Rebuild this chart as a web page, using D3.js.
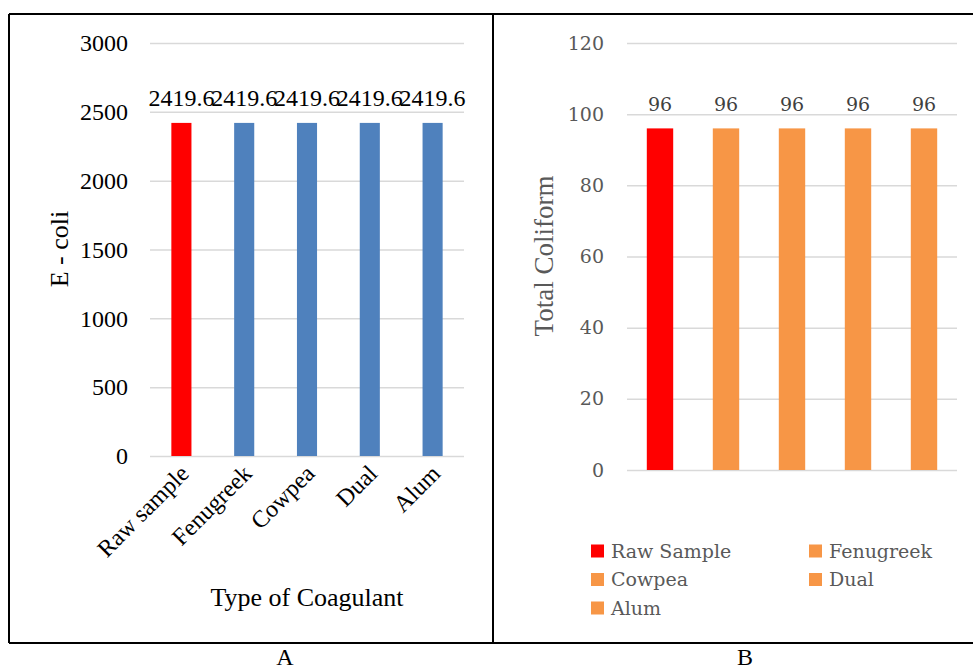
<!DOCTYPE html>
<html lang="en">
<head>
  <meta charset="utf-8" />
  <title>E. coli and Total Coliform by Coagulant</title>
  <script src="https://cdnjs.cloudflare.com/ajax/libs/d3/7.8.5/d3.min.js"></script>
  <style>
    body { margin: 0; background: #fff; }
    svg { display: block; }
    .times { font-family: 'Liberation Serif', 'Times New Roman', serif; }
    .cambria { font-family: 'DejaVu Serif', serif; }
  </style>
</head>
<body>
<svg id="chart" width="973" height="670"></svg>
<script>
// ---- data ----
const coagulantsA = ["Raw sample", "Fenugreek", "Cowpea", "Dual", "Alum"];
const ecoli = [2419.6, 2419.6, 2419.6, 2419.6, 2419.6];
const ecoliTicks = [0, 500, 1000, 1500, 2000, 2500, 3000];

const coagulantsB = ["Raw Sample", "Fenugreek", "Cowpea", "Dual", "Alum"];
const coliform = [96, 96, 96, 96, 96];
const coliformTicks = [0, 20, 40, 60, 80, 100, 120];

const svg = d3.select("#chart");

// ------------------- FRAME -------------------
const frame = svg.append("g").attr("stroke", "#000").attr("stroke-width", 2);
frame.append("line").attr("x1", 9).attr("x2", 973).attr("y1", 14).attr("y2", 14);
frame.append("line").attr("x1", 9).attr("x2", 973).attr("y1", 643).attr("y2", 643);
frame.append("line").attr("x1", 9).attr("x2", 9).attr("y1", 14).attr("y2", 643);
frame.append("line").attr("x1", 493).attr("x2", 493).attr("y1", 14).attr("y2", 643);

svg.append("text").attr("class", "times").attr("x", 285).attr("y", 665)
  .attr("text-anchor", "middle").style("font-size", "24px").text("A");
svg.append("text").attr("class", "times").attr("x", 745).attr("y", 665)
  .attr("text-anchor", "middle").style("font-size", "24px").text("B");

// ------------------- CHART A -------------------
{
  const x = d3.scaleBand().domain(coagulantsA).range([150, 464]).paddingInner(0.68).paddingOuter(0.34);
  const y = d3.scaleLinear().domain([0, 3000]).range([456, 43]);
  const g = svg.append("g").attr("class", "times");

  g.append("g")
    .call(d3.axisLeft(y).tickValues(ecoliTicks).tickFormat(d3.format("d")).tickSize(-314).tickPadding(22))
    .attr("transform", "translate(150,0)")
    .call(a => a.select(".domain").remove())
    .call(a => a.selectAll(".tick line").attr("stroke", "#d9d9d9").attr("stroke-width", 1.5))
    .call(a => a.selectAll(".tick text").attr("fill", "#000")
      .style("font-family", "'Liberation Serif', serif").style("font-size", "24px"));

  g.selectAll("rect.bar")
    .data(coagulantsA)
    .enter()
    .append("rect")
    .attr("x", d => x(d))
    .attr("y", (d, i) => y(ecoli[i]))
    .attr("width", x.bandwidth())
    .attr("height", (d, i) => y(0) - y(ecoli[i]))
    .attr("fill", (d, i) => i === 0 ? "#ff0000" : "#4f81bd");

  g.selectAll("text.val")
    .data(coagulantsA)
    .enter()
    .append("text")
    .attr("x", d => x(d) + x.bandwidth() / 2)
    .attr("y", (d, i) => y(ecoli[i]) - 17)
    .attr("text-anchor", "middle")
    .style("font-size", "24px")
    .text((d, i) => ecoli[i]);

  g.selectAll("text.cat")
    .data(coagulantsA)
    .enter()
    .append("text")
    .attr("transform", d => `translate(${x(d) + x.bandwidth() / 2 + 9},${475}) rotate(-45)`)
    .attr("text-anchor", "end")
    .style("font-size", "24px")
    .text(d => d);

  g.append("text")
    .attr("x", 307).attr("y", 606)
    .attr("text-anchor", "middle")
    .style("font-size", "26px")
    .text("Type of Coagulant");

  g.append("text")
    .attr("transform", "translate(68,249) rotate(-90)")
    .attr("text-anchor", "middle")
    .style("font-size", "26px")
    .text("E - coli");
}

// ------------------- CHART B -------------------
{
  const x = d3.scaleBand().domain(coagulantsB).range([627, 957]).paddingInner(0.6).paddingOuter(0.3);
  const y = d3.scaleLinear().domain([0, 120]).range([470, 43]);
  const g = svg.append("g");
  const colorB = (d, i) => i === 0 ? "#ff0000" : "#f79646";

  g.append("g")
    .attr("transform", "translate(627,0)")
    .call(d3.axisLeft(y).tickValues(coliformTicks).tickSize(-330).tickPadding(23))
    .call(a => a.select(".domain").remove())
    .call(a => a.selectAll(".tick line").attr("stroke", "#d9d9d9").attr("stroke-width", 1.5))
    .call(a => a.selectAll(".tick text").attr("fill", "#595959")
      .style("font-family", "'DejaVu Serif', serif").style("font-size", "19px"));

  g.selectAll("rect.bar")
    .data(coagulantsB)
    .enter()
    .append("rect")
    .attr("x", d => x(d))
    .attr("y", (d, i) => y(coliform[i]))
    .attr("width", x.bandwidth())
    .attr("height", (d, i) => y(0) - y(coliform[i]))
    .attr("fill", colorB);

  g.selectAll("text.val")
    .data(coagulantsB)
    .enter()
    .append("text")
    .attr("class", "cambria")
    .attr("x", d => x(d) + x.bandwidth() / 2)
    .attr("y", (d, i) => y(coliform[i]) - 17)
    .attr("text-anchor", "middle")
    .attr("fill", "#404040")
    .style("font-size", "19px")
    .text((d, i) => coliform[i]);

  g.append("text")
    .attr("class", "times")
    .attr("transform", "translate(553,256) rotate(-90)")
    .attr("text-anchor", "middle")
    .attr("fill", "#595959")
    .style("font-size", "27px")
    .text("Total Coliform");

  // legend
  const legend = g.append("g").attr("class", "cambria");
  coagulantsB.forEach((name, i) => {
    const row = legend.append("g")
      .attr("transform", `translate(${i % 2 === 0 ? 591 : 809},${551 + Math.floor(i / 2) * 28.5})`);
    row.append("rect").attr("x", 0).attr("y", -6.5).attr("width", 13).attr("height", 13).attr("fill", colorB(name, i));
    row.append("text").attr("x", 20).attr("y", 0).attr("dy", "0.35em")
      .attr("fill", "#595959").style("font-size", "19px").text(name);
  });
}
</script>
</body>
</html>
